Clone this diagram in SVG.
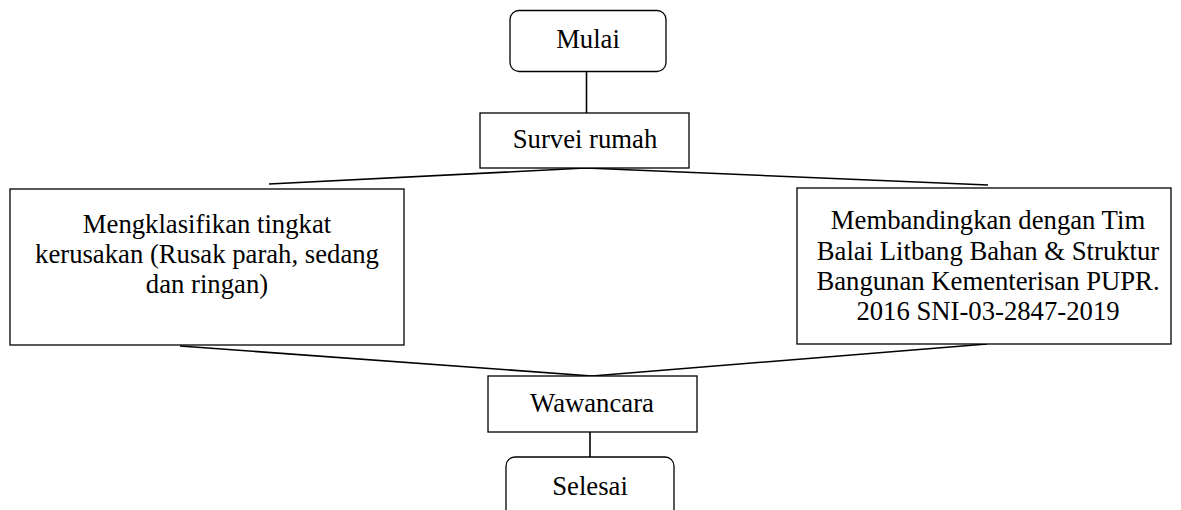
<svg xmlns="http://www.w3.org/2000/svg" width="1181" height="510" viewBox="0 0 1181 510">
<style>
.box{fill:#fff;stroke:#000;stroke-width:1.3}
.t{font-family:"Liberation Serif","Times New Roman",serif;font-size:26.7px;fill:#000;text-anchor:middle}
.c{fill:none;stroke:#000;stroke-width:1.6}
</style>
<rect width="1181" height="510" fill="#fff"/>
<g id="connectors">
<line class="c" x1="586.5" y1="72" x2="586.5" y2="113"/>
<polyline class="c" points="269,184 586,168 988,185"/>
<polyline class="c" points="180,346 592,376 987,344"/>
<line class="c" x1="590" y1="432" x2="590" y2="457"/>
</g>
<g id="mulai">
<rect class="box" x="510" y="10.5" width="156" height="61" rx="9"/>
<text class="t" x="588" y="48">Mulai</text>
</g>
<g id="survei">
<rect class="box" x="480" y="113" width="209" height="55"/>
<text class="t" x="585" y="148">Survei rumah</text>
</g>
<g id="klasifikasi">
<rect class="box" x="10" y="189" width="394" height="156"/>
<text class="t" x="207" y="233">Mengklasifikan tingkat</text>
<text class="t" x="207" y="263">kerusakan (Rusak parah, sedang</text>
<text class="t" x="207" y="293">dan ringan)</text>
</g>
<g id="membandingkan">
<rect class="box" x="797" y="188" width="374" height="156"/>
<text class="t" x="988" y="229">Membandingkan dengan Tim</text>
<text class="t" x="988" y="260">Balai Litbang Bahan &amp; Struktur</text>
<text class="t" x="988" y="290">Bangunan Kementerisan PUPR.</text>
<text class="t" x="988" y="320">2016 SNI-03-2847-2019</text>
</g>
<g id="wawancara">
<rect class="box" x="488" y="376" width="209" height="56"/>
<text class="t" x="592" y="412">Wawancara</text>
</g>
<g id="selesai">
<rect class="box" x="506" y="457" width="168" height="70" rx="9"/>
<text class="t" x="590" y="495">Selesai</text>
</g>
</svg>
